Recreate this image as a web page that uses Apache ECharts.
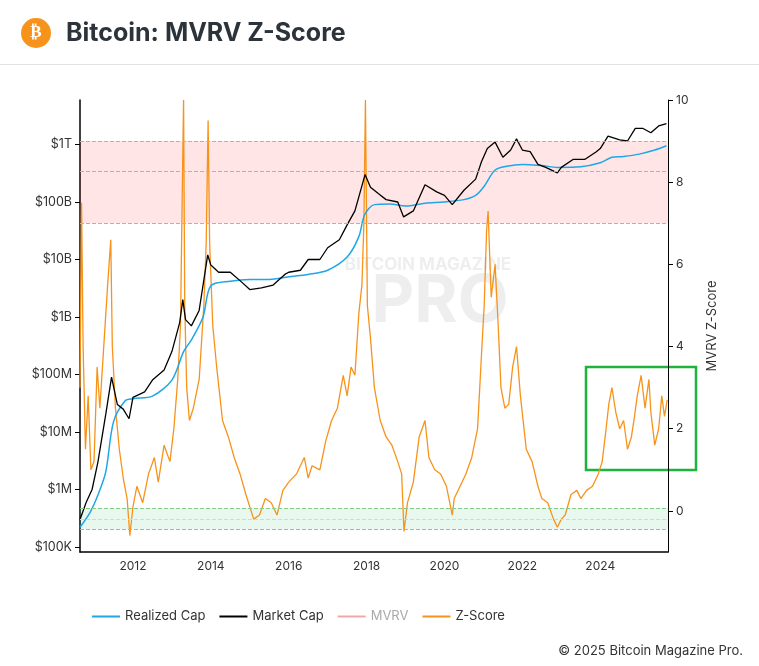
<!DOCTYPE html>
<html><head><meta charset="utf-8">
<script src="https://cdn.jsdelivr.net/npm/echarts@6/dist/echarts.min.js"></script>
<style>html,body{margin:0;padding:0;background:#fff}#c{width:759px;height:666px}</style>
</head><body><div id="c"></div>
<script>
const xYears = [2012,2014,2016,2018,2020,2022,2024];
const capTicks = [1e5,1e6,1e7,1e8,1e9,1e10,1e11,1e12];
const capLabels = ['$100K','$1M','$10M','$100M','$1B','$10B','$100B','$1T'];
const zTicks = [0,2,4,6,8,10];

const mcT = [2010.64,2010.8,2010.95,2011.1,2011.3,2011.45,2011.6,2011.75,2011.9,2012.0,2012.3,2012.5,2012.8,2013.0,2013.2,2013.28,2013.35,2013.5,2013.7,2013.92,2014.0,2014.2,2014.5,2014.8,2015.0,2015.3,2015.6,2015.9,2016.0,2016.3,2016.5,2016.8,2017.0,2017.3,2017.5,2017.7,2017.96,2018.1,2018.3,2018.5,2018.8,2018.95,2019.2,2019.5,2019.8,2020.0,2020.2,2020.5,2020.8,2020.95,2021.1,2021.3,2021.5,2021.7,2021.85,2022.0,2022.2,2022.4,2022.6,2022.9,2023.0,2023.3,2023.6,2023.9,2024.0,2024.2,2024.5,2024.7,2024.9,2025.1,2025.3,2025.5,2025.7];
const mcV = [3e5,6e5,1e6,3e6,2e7,9e7,3e7,2.5e7,1.7e7,4e7,5e7,8e7,1.2e8,2.5e8,8e8,2e9,9e8,7e8,1.3e9,1.2e10,8e9,6e9,6e9,4e9,3e9,3.2e9,3.6e9,5.5e9,6e9,6.5e9,1e10,1e10,1.6e10,2.2e10,4e10,7e10,3e11,1.8e11,1.4e11,1.1e11,1e11,5.5e10,7e10,2e11,1.5e11,1.3e11,9e10,1.6e11,2.5e11,5e11,8.5e11,1.1e12,6e11,8e11,1.25e12,8e11,7.5e11,4.5e11,4e11,3.2e11,4e11,5.5e11,5.5e11,7.5e11,8.5e11,1.4e12,1.2e12,1.15e12,1.9e12,1.9e12,1.6e12,2.1e12,2.3e12];

const rcT = [2010.64,2010.9,2011.1,2011.3,2011.5,2011.8,2012.0,2012.5,2013.0,2013.3,2013.5,2013.8,2014.0,2014.5,2015.0,2015.5,2016.0,2016.5,2017.0,2017.5,2017.8,2017.95,2018.2,2018.6,2019.0,2019.5,2020.0,2020.5,2020.8,2021.0,2021.3,2021.6,2022.0,2022.5,2022.9,2023.5,2024.0,2024.3,2024.6,2025.0,2025.4,2025.7];
const rcV = [2.2e5,4e5,8e5,2e6,1.5e7,3.5e7,3.8e7,4.2e7,8e7,2.5e8,4e8,1e9,3.5e9,4.2e9,4.5e9,4.5e9,5e9,5.5e9,6.5e9,1.1e10,2.5e10,6e10,9e10,9.2e10,8.5e10,9.5e10,1e11,1.1e11,1.3e11,1.8e11,3.6e11,4.2e11,4.5e11,4.3e11,4e11,4.1e11,4.8e11,6e11,6.2e11,6.8e11,8e11,9.5e11];

const zT = [2010.64,2010.68,2010.72,2010.78,2010.85,2010.92,2011.0,2011.08,2011.15,2011.25,2011.35,2011.43,2011.47,2011.55,2011.65,2011.75,2011.85,2011.92,2012.0,2012.1,2012.25,2012.4,2012.55,2012.65,2012.8,2012.95,2013.05,2013.15,2013.22,2013.27,2013.3,2013.33,2013.38,2013.45,2013.55,2013.7,2013.82,2013.88,2013.93,2013.97,2014.05,2014.15,2014.3,2014.45,2014.6,2014.75,2014.9,2015.0,2015.1,2015.25,2015.4,2015.55,2015.7,2015.85,2016.0,2016.2,2016.4,2016.5,2016.6,2016.8,2016.95,2017.1,2017.25,2017.4,2017.5,2017.6,2017.7,2017.8,2017.88,2017.93,2017.97,2018.02,2018.1,2018.2,2018.35,2018.5,2018.65,2018.8,2018.9,2018.96,2019.05,2019.2,2019.35,2019.5,2019.6,2019.75,2019.9,2020.05,2020.2,2020.25,2020.4,2020.55,2020.7,2020.85,2020.95,2021.02,2021.08,2021.12,2021.2,2021.3,2021.38,2021.45,2021.55,2021.65,2021.75,2021.85,2021.95,2022.1,2022.25,2022.4,2022.5,2022.65,2022.8,2022.9,2023.0,2023.1,2023.25,2023.4,2023.5,2023.65,2023.8,2023.95,2024.05,2024.15,2024.22,2024.3,2024.4,2024.5,2024.6,2024.7,2024.8,2024.88,2024.95,2025.05,2025.15,2025.25,2025.3,2025.4,2025.5,2025.58,2025.65,2025.72];
const zV = [3,7.5,4,1.5,2.8,1,1.2,3.5,2.5,4,5.5,6.6,4,2.5,1.5,0.8,0.3,-0.6,0.1,0.6,0.2,0.9,1.3,0.7,1.6,1.2,2.0,3.2,4.5,8,10,5,3,2.2,2.5,3.2,5,6.5,9.5,6.5,4.5,3.5,2.2,1.8,1.3,0.9,0.4,0.1,-0.2,-0.1,0.3,0.2,-0.1,0.5,0.7,0.9,1.3,0.8,1.1,1.0,1.7,2.2,2.5,3.3,2.8,3.5,3.3,4.8,5.5,7,10,5,4.2,3,2.2,1.8,1.6,1.2,0.9,-0.5,0.2,0.7,1.8,2.2,1.3,1.0,0.9,0.6,-0.1,0.3,0.6,0.9,1.3,2.0,3.8,5,6.8,7.3,5.2,6,4.5,3,2.5,2.6,3.5,4,2.8,1.5,1.2,0.6,0.3,0.2,-0.2,-0.4,-0.2,-0.1,0.4,0.5,0.3,0.5,0.6,0.9,1.2,2.0,2.6,3.0,2.4,2.0,2.2,1.5,1.8,2.3,2.8,3.3,2.5,3.2,2.4,1.6,2.0,2.8,2.3,2.7,2.2];

function pairs(t,v){return t.map((x,i)=>[x,v[i]]);}
const chart = echarts.init(document.getElementById('c'));
const font = 'Inter, "Noto Sans", sans-serif';
chart.setOption({
  animation:false,
  textStyle:{fontFamily:font},
  grid:{left:80,right:91,top:100,bottom:114},
  legend:{top:605,left:87,itemWidth:28,itemHeight:2,itemGap:14,icon:'rect',
    textStyle:{fontSize:13,color:'#333'},
    data:['Realized Cap','Market Cap',{name:'MVRV',textStyle:{color:'#aaa'}},'Z-Score']},
  xAxis:{type:'value',min:2010.64,max:2025.74,
    axisLine:{onZero:false,lineStyle:{color:'#000',width:1.5}},
    axisTick:{show:false},
    axisLabel:{customValues:xYears,color:'#333',fontSize:12,formatter:v=>String(v)},
    splitLine:{show:false}},
  yAxis:[
    {type:'log',logBase:10,min:81850,max:5.94e12,
     axisLine:{show:true,lineStyle:{color:'#000',width:1.5}},
     axisTick:{show:true,customValues:capTicks},
     axisLabel:{customValues:capTicks,color:'#333',fontSize:12.5,formatter:v=>capLabels[Math.round(Math.log10(v))-5]},
     splitLine:{show:false}},
    {type:'value',min:-1,max:10,position:'right',
     name:'MVRV Z-Score',nameLocation:'middle',nameGap:38,nameRotate:90,
     nameTextStyle:{fontSize:13,color:'#333'},
     axisLine:{show:true,lineStyle:{color:'#000',width:1}},
     axisTick:{show:true,customValues:zTicks},
     axisLabel:{customValues:zTicks,color:'#333',fontSize:12},
     splitLine:{show:false}}
  ],
  series:[
    {name:'MVRV',type:'line',yAxisIndex:1,data:[],itemStyle:{color:'#f4a6a6'},lineStyle:{color:'#f4a6a6'},
     markArea:{silent:true,data:[
       [{yAxis:7,itemStyle:{color:'rgba(255,0,0,0.1)'}},{yAxis:9}],
       [{yAxis:-0.44,itemStyle:{color:'rgba(0,180,80,0.09)'}},{yAxis:0.07}]]},
     markLine:{silent:true,symbol:'none',label:{show:false},data:[
       {yAxis:9,lineStyle:{color:'#e99',type:'dashed',width:1}},
       {yAxis:8.27,lineStyle:{color:'#e99',type:'dashed',width:1}},
       {yAxis:7,lineStyle:{color:'#e99',type:'dashed',width:1}},
       {yAxis:0.07,lineStyle:{color:'#8c8',type:'dashed',width:1}},
       {yAxis:-0.2,lineStyle:{color:'#cdc',type:'dashed',width:1}},
       {yAxis:-0.44,lineStyle:{color:'#8c8',type:'dashed',width:1}}]}},
    {name:'Z-Score',type:'line',yAxisIndex:1,data:pairs(zT,zV),showSymbol:false,
     lineStyle:{color:'#f7931a',width:1.3},itemStyle:{color:'#f7931a'}},
    {name:'Realized Cap',type:'line',data:pairs(rcT,rcV),showSymbol:false,smooth:0.3,
     lineStyle:{color:'#1ea7e8',width:1.5},itemStyle:{color:'#1ea7e8'}},
    {name:'Market Cap',type:'line',data:pairs(mcT,mcV),showSymbol:false,
     lineStyle:{color:'#000',width:1.3},itemStyle:{color:'#000'}}
  ],
  graphic:[
    {type:'rect',shape:{x:0,y:64,width:759,height:1},style:{fill:'#e2e2e2'}},
    {type:'circle',shape:{cx:36,cy:33,r:15},style:{fill:'#f7931a'}},
    {type:'text',x:36,y:33,style:{text:'₿',fill:'#fff',font:'bold 17px "DejaVu Sans"',align:'center',verticalAlign:'middle'}},
    {type:'text',x:66,y:33,style:{text:'Bitcoin: MVRV Z-Score',fill:'#2d333a',font:'bold 25px Inter, sans-serif',verticalAlign:'middle'}},
    {type:'text',x:428,y:265,z:-1,style:{text:'BITCOIN MAGAZINE',fill:'rgba(150,150,150,0.16)',font:'bold 17px Inter, sans-serif',align:'center',verticalAlign:'middle'}},
    {type:'text',x:440,y:302,z:-1,style:{text:'PRO',fill:'rgba(150,150,150,0.16)',font:'bold 66px Inter, sans-serif',align:'center',verticalAlign:'middle'}},
    {type:'rect',shape:{x:586,y:367,width:110,height:103},style:{fill:'none',stroke:'#1db33c',lineWidth:2.5}},
    {type:'text',right:16,y:651,style:{text:'© 2025 Bitcoin Magazine Pro.',fill:'#333',font:'13px Inter, sans-serif',verticalAlign:'middle'}}
  ]
});
</script></body></html>
